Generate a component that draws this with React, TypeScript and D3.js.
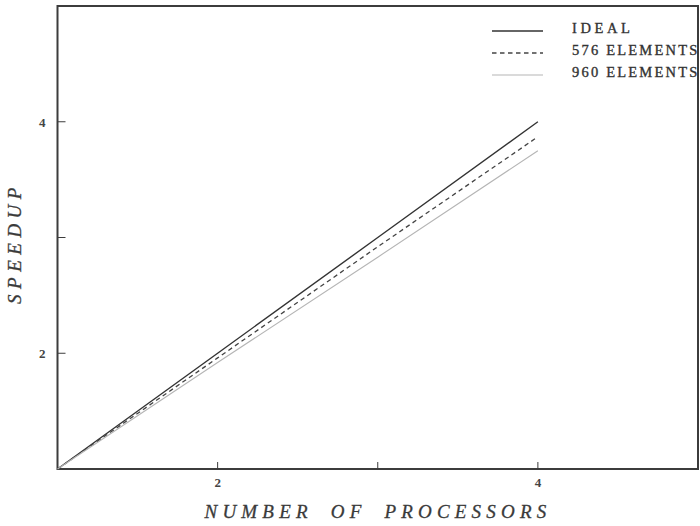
import React from "react";
import * as d3 from "d3";

const processors = [1, 2, 3, 4];
const idealSpeedup = [1, 2, 3, 4];
const speedup576 = [1, 1.96, 2.92, 3.87];
const speedup960 = [1, 1.92, 2.83, 3.75];
const xTicks = [2, 3, 4];
const xTickLabels = ["2", "", "4"];
const yTicks = [2, 3, 4];
const yTickLabels = ["2", "", "4"];
const seriesNames = ["IDEAL", "576 ELEMENTS", "960 ELEMENTS"];

const W = 700;
const H = 526;
const left = 57.5;
const right = 698;
const top = 6;
const bottom = 469;

export default function App() {
  const x = d3.scaleLinear().domain([1, 5]).range([left, right]);
  const y = d3.scaleLinear().domain([1, 5]).range([bottom, top]);
  const line = d3
    .line<[number, number]>()
    .x((d) => x(d[0]))
    .y((d) => y(d[1]));

  const series = [
    { name: seriesNames[0], values: idealSpeedup, stroke: "#333", width: 1.4, dash: undefined as string | undefined },
    { name: seriesNames[1], values: speedup576, stroke: "#444", width: 1.3, dash: "4.5,3.5" },
    { name: seriesNames[2], values: speedup960, stroke: "#b5b5b5", width: 1.1, dash: undefined },
  ];

  const axisColor = "#3c3c3c";
  const serif = "'Liberation Serif', 'DejaVu Serif', serif";

  return (
    <svg
      width={W}
      height={H}
      style={{ position: "absolute", left: 0, top: 0, background: "#fff" }}
      fontFamily={serif}
    >
      <rect x={0} y={0} width={W} height={H} fill="#fff" />
      {/* frame */}
      <rect
        x={left}
        y={top}
        width={right - left}
        height={bottom - top}
        fill="none"
        stroke={axisColor}
        strokeWidth={2}
      />
      {/* x ticks */}
      {xTicks.map((t, i) => (
        <g key={"xt" + t}>
          <line x1={x(t)} x2={x(t)} y1={bottom} y2={bottom - 7} stroke={axisColor} strokeWidth={1} />
          <text
            x={x(t)}
            y={bottom + 18}
            textAnchor="middle"
            fontSize={13}
            fontWeight="bold"
            fill="#444"
          >
            {xTickLabels[i]}
          </text>
        </g>
      ))}
      {/* y ticks */}
      {yTicks.map((t, i) => (
        <g key={"yt" + t}>
          <line x1={left} x2={left + 8} y1={y(t)} y2={y(t)} stroke={axisColor} strokeWidth={1} />
          <text
            x={left - 12}
            y={y(t) + 5}
            textAnchor="end"
            fontSize={13}
            fontWeight="bold"
            fill="#444"
          >
            {yTickLabels[i]}
          </text>
        </g>
      ))}
      {/* series */}
      {series.map((s) => (
        <path
          key={s.name}
          d={line(processors.map((p, i) => [p, s.values[i]] as [number, number])) || ""}
          fill="none"
          stroke={s.stroke}
          strokeWidth={s.width}
          strokeDasharray={s.dash}
        />
      ))}
      {/* legend */}
      {series.map((s, i) => (
        <g key={"lg" + s.name}>
          <line
            x1={492}
            x2={543}
            y1={31 + i * 22}
            y2={31 + i * 22}
            stroke={s.stroke}
            strokeWidth={s.width}
            strokeDasharray={s.dash}
          />
          <text
            x={572}
            y={32.5 + i * 22}
            fontSize={14.5}
            fill="#333"
            stroke="#333"
            strokeWidth={0.35}
            letterSpacing={s.name === "IDEAL" ? 3.6 : 2.2}
          >
            {s.name}
          </text>
        </g>
      ))}
      {/* axis titles */}
      <text
        x={378}
        y={518}
        textAnchor="middle"
        fontSize={19}
        fontStyle="italic"
        fill="#3a3a3a"
        stroke="#3a3a3a"
        strokeWidth={0.3}
        letterSpacing={5.2}
        wordSpacing={8}
      >
        NUMBER OF PROCESSORS
      </text>
      <text
        transform={`translate(21, 243) rotate(-90)`}
        textAnchor="middle"
        fontSize={19}
        fontStyle="italic"
        fill="#3a3a3a"
        stroke="#3a3a3a"
        strokeWidth={0.3}
        letterSpacing={5.5}
      >
        SPEEDUP
      </text>
    </svg>
  );
}
